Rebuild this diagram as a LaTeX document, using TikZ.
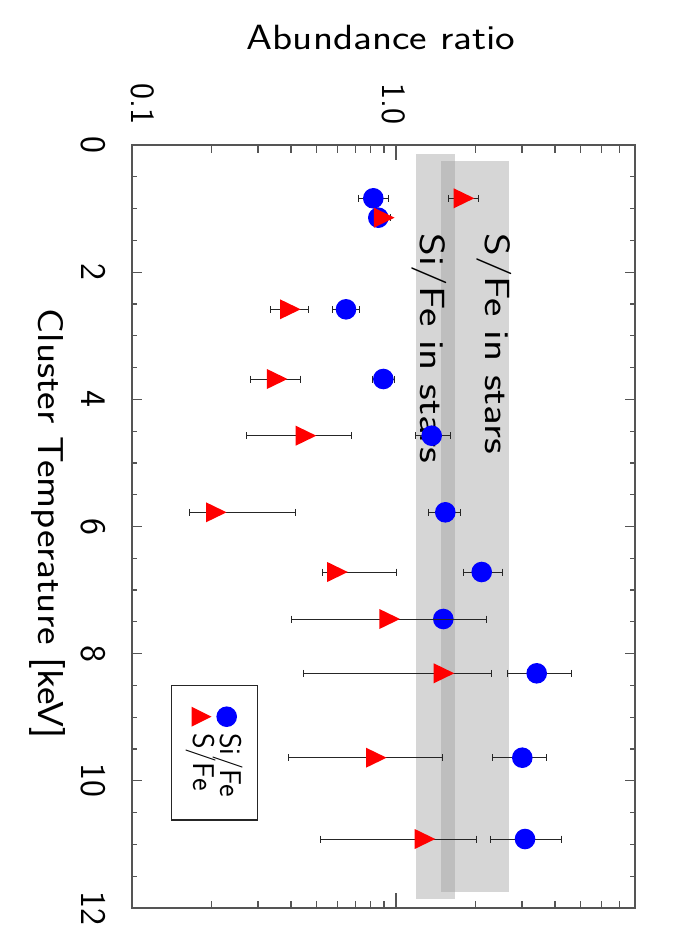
\documentclass[tikz,border=0pt]{standalone}
\usepackage{fontspec}
\usepackage{graphicx}
\definecolor{band}{HTML}{D6D6D6}
\definecolor{bandd}{HTML}{BEBEBE}
\definecolor{framec}{HTML}{555555}
\tikzset{
  txt/.style={inner sep=0pt, outer sep=0pt, font=\sffamily\fontsize{35}{40}\selectfont, text=black},
  rtxt/.style={txt, rotate=-90},
  ticklab/.style={rtxt, font=\sffamily\fontsize{36}{40}\selectfont, anchor=base},
  toplab/.style={rtxt, font=\sffamily\fontsize{34}{40}\selectfont, anchor=base},
  legtxt/.style={rtxt, font=\sffamily\fontsize{30}{34}\selectfont, anchor=base west},
  errbar/.style={draw=black!85, line width=0.9pt},
  axisline/.style={draw=framec, line width=1.3pt},
  tickline/.style={draw=framec, line width=1.2pt},
}
\begin{document}
\begin{tikzpicture}[x=1pt,y=-1pt]
\useasboundingbox (0,0) rectangle (700,950);
\fill[white] (0,0) rectangle (700,950);
% bands
\fill[band] (415.7,154.3) rectangle (454.6,898.7);
\fill[band] (440.7,161.3) rectangle (508.9,892.3);
\fill[bandd] (440.7,161.3) rectangle (454.6,892.3);
\node[rtxt, anchor=base west] (sstars) at (485,233.3) {\scalebox{1.245}[1]{S/Fe in stars}};
\node[rtxt, anchor=base west] (sistars) at (420,233.3) {\scalebox{1.245}[1]{Si/Fe in stars}};
% Si/Fe data: y / centre / err left / err right
\foreach \y/\c/\l/\r in {198.3/373.3/358.3/388.3, 217.7/378.3/372/385, 309.3/346/332.7/359.3,
  379/383.3/372.7/394, 435.7/431.7/415.7/450, 512.3/445.3/428.7/460.7, 572/481.7/463.3/502.3,
  619/443.3/439/447.3, 673.3/536.7/507.3/571.7, 757.7/522.3/492.7/546.7, 839/525/490.7/561.7}{
  \draw[errbar] (\l,\y) -- (\r,\y) (\l,\y-3.5) -- (\l,\y+3.5) (\r,\y-3.5) -- (\r,\y+3.5);
  \fill[blue] (\c,\y) circle[radius=10.3pt];
}
% S/Fe data
\foreach \y/\c/\l/\r in {198.3/464/448/478.7, 217.7/384.2/382/390.5, 309.3/290.3/270.3/308.7,
  379/277.2/250.3/300.7, 435.7/306/246.7/351, 512.3/216.3/189.3/295.3, 572/337.5/322.3/396.7,
  619/389.7/291.7/486, 673.3/444/303.7/491.7, 757.7/376.3/288.3/442.7, 839/425/320/476.7}{
  \draw[errbar] (\l,\y) -- (\r,\y) (\l,\y-3.5) -- (\l,\y+3.5) (\r,\y-3.5) -- (\r,\y+3.5);
  \fill[red] (\c-10.3,\y-10) -- (\c-10.3,\y+10) -- (\c+10.3,\y) -- cycle;
}
% frame
\draw[axisline] (132,145) rectangle (635,908);
% log-axis ticks (top and bottom)
\foreach \x in {211.47,257.96,290.94,316.53,337.43,355.11,370.42,383.92,475.47,521.96,554.94,580.53,601.43,619.11}{
  \draw[tickline] (\x,145) -- (\x,152.5);
  \draw[tickline] (\x,908) -- (\x,900.5);
}
\draw[tickline] (396,145) -- (396,160);
\draw[tickline] (396,908) -- (396,893);
% temperature ticks (left and right)
\foreach \t in {0.5,1,1.5,2.5,3,3.5,4.5,5,5.5,6.5,7,7.5,8.5,9,9.5,10.5,11,11.5}{
  \draw[tickline] (132,145+63.583*\t) -- (137,145+63.583*\t);
  \draw[tickline] (635,145+63.583*\t) -- (630,145+63.583*\t);
}
\foreach \t in {2,4,6,8,10}{
  \draw[tickline] (132,145+63.583*\t) -- (142,145+63.583*\t);
  \draw[tickline] (635,145+63.583*\t) -- (625,145+63.583*\t);
}
% tick labels
\foreach \t in {0,2,4,6,8,10,12}{
  \node[ticklab] (tl\t) at (81.7,145+63.583*\t) {\t};
}
\node[toplab] (l01) at (131.4,104) {0.1};
\node[toplab] (l10) at (382,104) {1.0};
% axis titles
\node[txt, anchor=base] (title) at (381,49.3) {\scalebox{1.19}[1]{Abundance ratio}};
\node[rtxt, font=\sffamily\fontsize{36}{40}\selectfont, anchor=base] (xlab) at (38.3,524) {\scalebox{1.16}[1]{Cluster Temperature [keV]}};
% legend
\draw[draw=black!85, line width=1.1pt] (171.7,685.7) rectangle (257.7,820);
\fill[blue] (226.7,716.7) circle[radius=10.3pt];
\fill[red] (191.5,706.7) -- (191.5,726.7) -- (211.5,716.7) -- cycle;
\node[legtxt] (legsi) at (220,733) {Si/Fe};
\node[legtxt] (legs) at (193.3,733) {S/Fe};
\end{tikzpicture}
\end{document}
